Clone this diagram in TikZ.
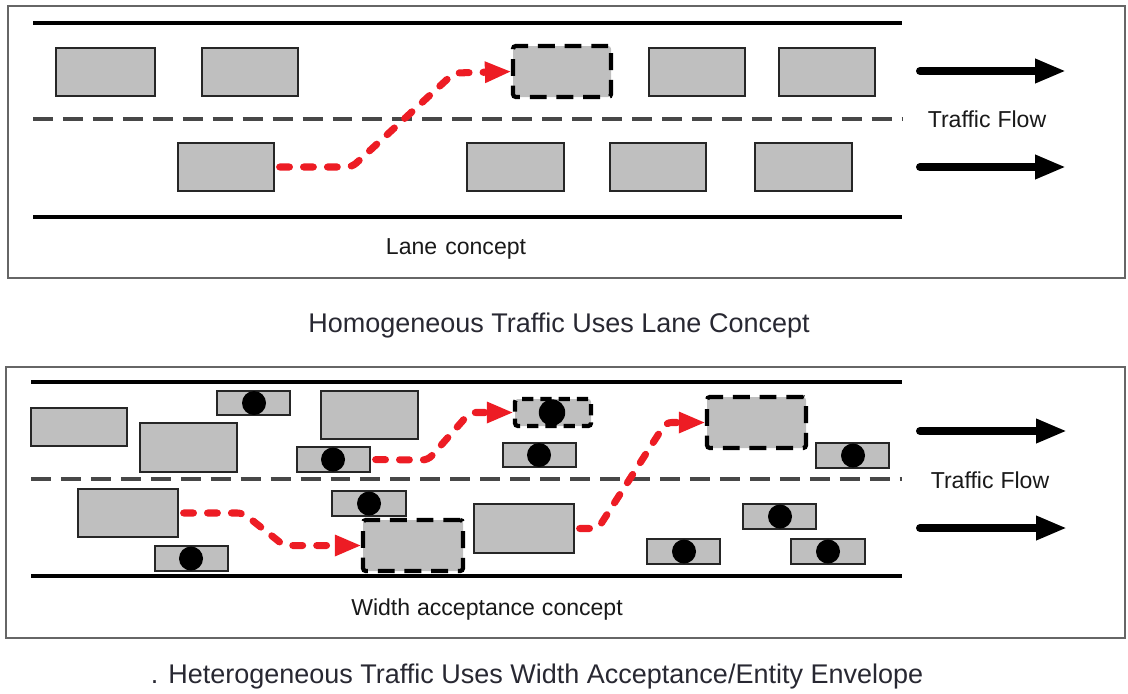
\documentclass[tikz,border=0pt]{standalone}
\usepackage{fontspec}
\setmainfont{Liberation Sans}
\usetikzlibrary{arrows.meta,fit}
\definecolor{lanered}{RGB}{237,28,36}
\definecolor{txtgray}{RGB}{40,40,50}
\begin{document}
\begin{tikzpicture}[x=0.025cm,y=-0.025cm,
  car/.style={draw=black!85, fill=gray!50, line width=1.5pt, inner sep=0pt, outer sep=0pt},
  ghost/.style={draw=black, fill=gray!50, line width=3pt, dash pattern=on 12pt off 7pt, rounded corners=2pt, inner sep=0pt, outer sep=0pt},
  ghostsmall/.style={ghost, dash pattern=on 8pt off 5pt},
  wheel/.style={circle, fill=black, minimum size=0.6cm, inner sep=0pt},
  bigwheel/.style={wheel, minimum size=0.66cm},
  redpath/.style={draw=lanered, line width=5pt, line cap=round, dash pattern=on 7pt off 10pt, rounded corners=4pt, shorten <=4pt, shorten >=1pt, -{Triangle[length=19pt,width=14pt]}},
  flow/.style={line width=5.7pt, line cap=round, -{Triangle[length=22pt,width=16pt]}},
  road/.style={line width=3.2pt, black},
  lanediv/.style={line width=2.8pt, black!72, dash pattern=on 14.2pt off 7.1pt},
  frame/.style={draw=black!60, line width=1.3pt},
  lbl/.style={anchor=base, text=black!90, font=\fontsize{16.4pt}{19pt}\selectfont, inner sep=0pt},
  captext/.style={anchor=base, text=txtgray, font=\fontsize{19.2pt}{22pt}\selectfont, inner sep=0pt}
]
\useasboundingbox (0,0) rectangle (1128,693);

% ================= Top panel =================
\draw[frame] (8,6) rectangle (1125,278);
\draw[road] (33,23) -- (902,23);
\draw[lanediv] (33,119) -- (902,119);
\draw[road] (33,217) -- (902,217);

\node[car, fit={(56,48) (155,96)}] (t1) {};
\node[car, fit={(202,48) (298,96)}] (t2) {};
\node[ghost, fit={(513,46) (611,97)}] (td) {};
\node[car, fit={(649,48) (745,96)}] (t3) {};
\node[car, fit={(779,48) (875,96)}] (t4) {};
\node[car, fit={(178,143) (274,191)}] (b1) {};
\node[car, fit={(467,143) (564,191)}] (b2) {};
\node[car, fit={(610,143) (706,191)}] (b3) {};
\node[car, fit={(755,143) (852,191)}] (b4) {};

\draw[redpath] (b1.east) -- (352,167) -- (454,73) -- (td.west);

\coordinate (fa1s) at (920,71);  \coordinate (fa1e) at (1066,71);
\coordinate (fa2s) at (920,167); \coordinate (fa2e) at (1066,167);
\draw[flow] (fa1s) -- (fa1e);
\draw[flow] (fa2s) -- (fa2e);
\node[lbl] (tf1) at (987,127) {Traffic\hspace{0.3em}Flow};
\node[lbl] (lc) at (456,254) {Lane\hspace{0.35em}concept};

\node[captext] (cap1) at (559,332) {Homogeneous Traffic Uses Lane Concept};

% ================= Bottom panel =================
\draw[frame] (6,367) rectangle (1125,638);
\draw[road] (31,382) -- (902,382);
\draw[lanediv] (31,479) -- (902,479);
\draw[road] (31,576) -- (902,576);

\node[car, fit={(31,408) (127,446)}] (ha) {};
\node[car, fit={(140,423) (237,472)}] (hb) {};
\node[car, fit={(217,391) (290,415)}] (hc) {};
\node[wheel] (hcw) at (254,403) {};
\node[car, fit={(321,391) (418,439)}] (hd) {};
\node[car, fit={(297,447) (370,472)}] (he) {};
\node[wheel] (hew) at (333,459.5) {};
\node[ghostsmall, fit={(515,399) (591,426)}] (hf) {};
\node[bigwheel] (hfw) at (552,412.5) {};
\node[car, fit={(503,443) (576,467)}] (hg) {};
\node[wheel] (hgw) at (539,455) {};
\node[car, fit={(78,489) (178,537)}] (hh) {};
\node[car, fit={(332,491) (406,516)}] (hi) {};
\node[wheel] (hiw) at (369,503.5) {};
\node[ghost, fit={(363,520) (463,571)}] (hj) {};
\node[car, fit={(474,504) (574,553)}] (hk) {};
\node[car, fit={(155,546) (228,571)}] (hl) {};
\node[wheel] (hlw) at (191,558.5) {};
\node[ghost, fit={(707,397) (806,448)}] (hm) {};
\node[car, fit={(816,443) (889,468)}] (hn) {};
\node[wheel] (hnw) at (853,455.5) {};
\node[car, fit={(743,504) (816,529)}] (ho) {};
\node[wheel] (how) at (780,516.5) {};
\node[car, fit={(647,539) (720,564)}] (hp) {};
\node[wheel] (hpw) at (684,551.5) {};
\node[car, fit={(791,539) (865,564)}] (hq) {};
\node[wheel] (hqw) at (828,551.5) {};

\draw[redpath] (he.east) -- (428,460) -- (470,412.5) -- (hf.west);
\draw[redpath] (hh.east) -- (243,513) -- (284,545.5) -- (hj.west);
\draw[redpath] (hk.east) -- (598,528.5) -- (666,422.5) -- (hm.west);

\coordinate (fb1s) at (920,431); \coordinate (fb1e) at (1067,431);
\coordinate (fb2s) at (920,528); \coordinate (fb2e) at (1067,528);
\draw[flow] (fb1s) -- (fb1e);
\draw[flow] (fb2s) -- (fb2e);
\node[lbl] (tf2) at (990,488) {Traffic\hspace{0.3em}Flow};
\node[lbl] (wac) at (487,615) {Width\hspace{0.3em}acceptance\hspace{0.3em}concept};

\node[captext] (cap2) at (537,683) {. Heterogeneous Traffic Uses Width Acceptance/Entity Envelope};
\end{tikzpicture}
\end{document}
